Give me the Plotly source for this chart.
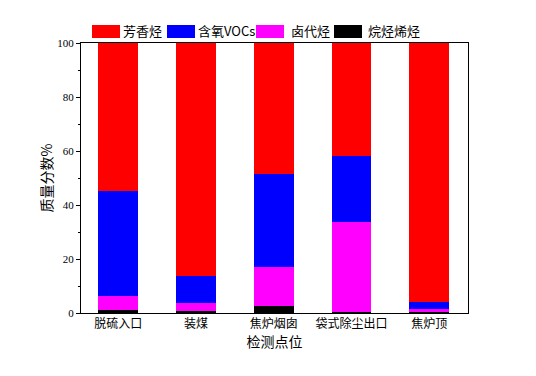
import plotly.graph_objects as go

categories = ["脱硫入口", "装煤", "焦炉烟囱", "袋式除尘出口", "焦炉顶"]
alkanes = [1.0, 0.7, 2.6, 0.3, 0.3]
halo = [5.3, 3.1, 14.4, 33.5, 1.2]
oxy = [39.0, 9.9, 34.5, 24.3, 2.6]
aromatic = [54.7, 86.3, 48.5, 41.9, 95.9]

series = [
    ("烷烃烯烃", alkanes, "#000000"),
    ("卤代烃", halo, "#FF00FF"),
    ("含氧VOCs", oxy, "#0000FF"),
    ("芳香烃", aromatic, "#FF0000"),
]

cjk = "Noto Sans CJK SC"
serif = "Liberation Serif"

fig = go.Figure()
for name, vals, col in series:
    fig.add_trace(go.Bar(x=list(range(len(categories))), y=vals, name=name,
                         marker=dict(color=col, line=dict(width=0)),
                         width=0.51, showlegend=False))

# page body has an 8px margin; compensate
fig.update_layout(
    barmode="stack",
    width=536, height=376,
    margin=dict(l=73, r=76, t=35, b=71),
    paper_bgcolor="white", plot_bgcolor="white",
    xaxis=dict(range=[-0.48, 4.5], tickmode="array",
               tickvals=list(range(len(categories))), ticktext=categories,
               tickfont=dict(family=cjk, size=12, color="black"),
               showline=True, linecolor="black", linewidth=1, mirror=True,
               ticks="", showgrid=False, zeroline=False,
               title=dict(text="检测点位", font=dict(family=cjk, size=14, color="black"), standoff=2)),
    yaxis=dict(range=[0, 100], tickvals=[0, 20, 40, 60, 80, 100],
               tickfont=dict(family=serif, size=11, color="black"),
               showline=True, linecolor="black", linewidth=1, mirror=True,
               ticks="outside", ticklen=4, tickcolor="black",
               minor=dict(tickvals=[10, 30, 50, 70, 90], ticks="outside", ticklen=2, tickcolor="black"),
               showgrid=False, zeroline=False,
               title=dict(text="质量分数%", font=dict(family=cjk, size=14, color="black"), standoff=1)),
)

# legend drawn along the top (pixel positions relative to the plot area)
PL, PW, PB, PH = 81, 387, 313, 270
legend_items = [("芳香烃", "#FF0000", 92, 123), ("含氧VOCs", "#0000FF", 167, 198),
                ("卤代烃", "#FF00FF", 256, 291), ("烷烃烯烃", "#000000", 334, 368)]
for text, col, sx, tx in legend_items:
    fig.add_shape(type="rect", xref="paper", yref="paper",
                  x0=(sx - PL) / PW, x1=(sx + 28 - PL) / PW,
                  y0=(PB - 38) / PH, y1=(PB - 25) / PH,
                  fillcolor=col, line=dict(width=0))
    fig.add_annotation(text=text, xref="paper", yref="paper",
                       x=(tx - PL) / PW, y=(PB - 31) / PH,
                       xanchor="left", yanchor="middle", showarrow=False,
                       xshift=-2,
                       font=dict(family=cjk, size=13, color="black"))

fig.write_html("out.html")
